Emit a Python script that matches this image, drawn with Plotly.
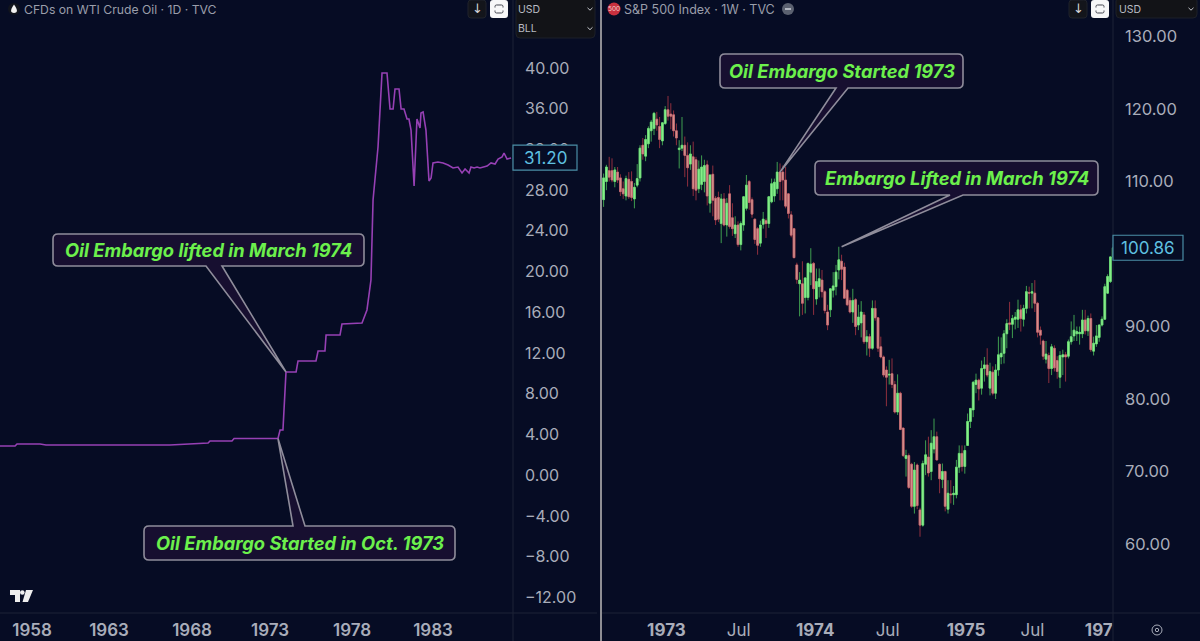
import plotly.graph_objects as go
import pandas as pd

W, H = 1200, 641
BG = "#060c24"

# ---------- left pane: WTI monthly line ----------
oil_years = [1956.0,1956.94,1957.06,1958.5,1958.87,1964.11,1966.6,1968.98,1969.1,1970.47,1970.6,1973.34,1973.47,1973.65,
             1973.84,1974.47,1974.59,1975.71,1975.84,1976.27,1976.34,1977.21,1977.33,1978.58,1978.89,1979.14,1979.27,1979.58,
             1979.83,1980.14,1980.33,1980.52,1980.64,1980.89,1981.02,1981.2,1981.39,1981.51,1981.64,1981.83,1981.95,1982.01,
             1982.2,1982.26,1982.39,1982.57,1982.76,1982.89,1983.01,1983.32,1983.64,1983.95,1984.26,1984.57,1984.82,1985.01,
             1985.26,1985.38,1985.57,1985.76,1985.94,1986.38,1986.63,1986.88,1987.07,1987.32,1987.44,1987.63,1987.88]
oil_prices = [2.87,2.87,3.06,3.06,2.97,2.97,2.97,3.16,3.36,3.36,3.60,3.60,4.44,4.44,
              10.14,10.14,11.22,11.22,12.20,12.20,13.77,13.77,14.85,14.95,16.23,19.17,27.03,32.24,
              39.51,39.51,35.97,35.97,37.94,37.94,35.97,35.97,34.99,34.99,33.91,28.41,33.22,34.99,
              34.11,35.58,35.68,33.91,28.90,29.19,30.67,30.77,30.67,30.47,30.18,30.27,29.69,30.08,
              29.69,30.27,30.18,30.27,30.18,30.37,30.67,30.57,31.06,31.26,31.65,31.06,31.16]
oil_tick_pos = [1958.0,1962.8,1967.98,1972.84,1977.96,1983.01]
oil_tick_txt = ["1958","1963","1968","1973","1978","1983"]
oil_y_ticks = [40,36,32,28,24,20,16,12,8,4,0,-4,-8,-12]
oil_y_text = ["40.00","36.00","32.00","28.00","24.00","20.00","16.00","12.00","8.00","4.00","0.00","\u22124.00","\u22128.00","\u221212.00"]
oil_last = 31.20

# ---------- right pane: S&P 500 weekly candles ----------
spx_first_week = "1972-07-28"
spx_open = [107.5,110.0,111.5,111.5,110.0,111.3,110.5,109.0,108.0,110.3,
 110.0,107.6,109.5,110.5,115.0,113.5,115.2,117.0,117.3,118.6,
 117.6,115.6,118.0,119.9,119.3,119.2,117.0,114.4,114.6,115.0,
 113.6,112.4,113.4,113.0,109.0,109.6,110.0,112.3,107.0,111.0,
 107.7,107.8,104.2,107.6,104.0,108.3,105.0,102.8,104.0,101.3,
 104.0,106.3,110.0,107.5,104.8,103.5,101.5,104.1,104.6,104.2,
 107.2,108.0,109.0,111.3,111.3,110.2,108.3,105.4,103.5,98.5,
 95.9,95.9,94.0,94.0,97.5,98.7,93.8,95.5,96.4,94.8,
 92.0,92.3,95.0,95.5,97.8,99.0,98.2,95.0,93.6,92.0,
 93.7,90.2,90.5,91.6,87.9,88.6,87.0,92.5,91.2,87.2,
 85.8,84.0,83.3,83.5,82.0,78.2,80.8,76.0,71.8,72.2,
 71.0,65.2,70.9,64.7,62.6,71.0,72.0,70.0,73.1,74.8,
 71.0,68.9,70.0,64.8,66.9,66.8,66.8,70.6,72.5,70.7,
 73.6,76.9,78.5,82.0,82.6,81.5,84.2,84.7,81.5,83.7,
 80.8,84.0,85.8,86.3,89.0,90.5,90.3,91.0,91.0,92.3,
 91.0,92.5,94.7,94.6,94.6,93.2,89.5,88.0,85.5,86.0,
 84.2,87.0,85.3,83.0,85.8,86.1,85.9,87.9,88.7,89.0,
 89.0,89.0,90.9,89.4,91.1,86.6,87.6,88.5,90.2,91.0,
 94.6,96.2,99.6]
spx_high = [111.1,112.3,113.4,113.2,112.0,112.0,111.0,110.0,110.8,111.3,
 111.4,109.8,112.4,115.0,116.0,116.4,117.6,118.5,119.6,119.6,
 118.9,118.2,120.4,121.8,120.8,119.8,118.0,115.7,118.9,116.2,
 115.4,115.0,115.5,113.4,112.9,113.6,113.0,112.9,111.0,112.2,
 108.0,108.6,108.3,108.4,107.7,109.5,107.0,105.2,104.5,104.5,
 108.0,110.9,110.2,107.8,104.9,103.7,104.6,105.8,104.9,108.0,
 110.4,110.4,112.7,112.5,112.2,112.0,108.4,105.9,103.6,98.8,
 97.5,99.0,96.8,98.8,100.8,98.9,98.0,98.0,97.8,95.0,
 93.0,95.3,97.5,98.5,101.0,99.9,98.8,95.2,94.0,95.2,
 93.9,93.0,93.5,92.0,89.5,89.0,93.6,93.6,91.3,88.6,
 86.0,84.5,85.4,85.6,82.5,83.4,81.0,76.0,73.0,72.5,
 71.2,71.3,71.1,65.0,71.5,74.3,74.8,75.7,77.3,75.5,
 71.1,71.1,70.1,68.8,68.8,68.0,71.6,73.6,73.6,73.6,
 78.0,78.7,82.5,83.5,82.8,85.3,85.8,87.0,85.0,84.5,
 84.8,88.6,88.5,89.5,91.0,93.4,91.6,92.0,93.7,93.0,
 93.0,95.6,95.5,96.0,96.4,93.4,90.0,88.2,88.0,86.4,
 87.6,87.4,85.9,86.6,86.8,86.5,88.2,90.7,91.6,90.0,
 90.0,92.3,92.3,91.5,91.8,88.6,90.2,90.3,91.4,95.9,
 97.2,99.7,101.4]
spx_low = [106.5,108.8,110.0,109.9,109.2,109.8,108.0,107.6,107.4,107.6,
 107.3,106.3,109.2,110.0,113.0,112.8,114.6,115.5,116.4,117.0,
 114.6,115.0,117.8,118.4,117.2,116.2,115.0,111.8,114.2,110.6,
 109.3,111.6,108.0,107.4,108.4,108.8,108.5,106.7,105.7,105.2,
 104.0,104.4,101.5,103.8,102.4,103.5,102.5,102.2,101.0,100.5,
 103.2,106.0,106.1,105.0,101.4,99.9,101.0,103.5,102.2,103.6,
 107.0,107.2,108.3,107.4,107.4,106.3,104.9,102.3,99.4,95.9,
 91.4,91.6,91.8,93.6,95.7,91.6,93.0,94.0,94.0,91.8,
 89.5,91.3,94.0,94.3,96.5,96.4,93.9,92.8,91.8,90.5,
 88.8,89.5,88.5,87.6,86.0,85.8,86.8,90.8,86.5,85.6,
 83.0,79.0,82.0,81.5,78.0,77.8,75.7,72.0,69.3,67.6,
 65.0,64.2,64.8,61.0,62.4,69.5,69.3,68.8,72.5,71.5,
 67.0,67.7,64.5,64.2,65.6,65.4,66.3,69.8,70.0,69.7,
 73.6,76.0,77.5,80.8,79.8,80.6,82.4,83.0,80.5,80.5,
 80.0,83.2,84.8,84.9,87.0,89.5,88.4,89.6,89.8,89.3,
 90.0,91.8,92.5,92.5,92.0,88.5,87.5,85.4,84.9,82.2,
 83.3,83.8,82.8,81.5,83.3,82.4,85.6,87.5,88.0,88.0,
 87.5,88.4,88.9,88.7,86.5,86.0,87.2,87.9,90.0,90.9,
 94.5,96.0,99.4]
spx_close = [110.5,112.0,110.6,110.2,111.6,110.2,108.6,108.3,110.4,107.9,
 107.8,109.2,110.4,114.6,113.8,115.8,117.3,118.2,119.4,117.8,
 115.8,118.1,119.9,119.0,119.0,117.0,116.0,114.6,115.0,113.6,
 111.9,113.8,109.0,108.8,111.7,112.0,112.2,108.0,110.9,107.4,
 104.7,104.8,107.6,104.0,107.0,103.8,103.5,104.0,101.3,104.2,
 107.9,109.5,107.1,105.5,102.0,101.2,104.0,104.8,104.2,107.9,
 109.7,109.9,111.3,110.0,110.2,106.6,105.6,102.6,99.5,96.5,
 96.4,93.2,96.7,98.7,98.6,95.2,96.2,96.6,94.8,92.2,
 90.2,95.2,95.6,97.5,99.2,97.9,93.9,93.0,92.0,93.6,
 90.0,91.3,92.0,87.9,88.6,87.0,92.5,91.2,87.0,85.8,
 83.3,83.0,83.4,82.0,78.2,80.8,75.8,72.2,72.2,67.8,
 65.2,70.2,65.3,62.6,71.1,72.3,69.8,73.9,74.8,71.6,
 69.0,70.0,65.2,67.0,66.8,67.0,70.6,72.5,70.7,72.9,
 76.9,78.7,82.3,82.6,81.4,84.2,84.7,83.3,83.8,80.8,
 84.0,86.1,86.3,89.0,90.4,90.3,91.1,91.3,92.3,91.1,
 92.5,94.8,94.6,94.8,93.2,89.2,88.8,85.9,86.2,84.2,
 87.2,84.3,83.8,86.0,86.1,85.8,87.9,88.6,89.5,89.3,
 89.2,90.9,89.4,91.1,86.8,87.7,88.7,90.2,91.0,95.5,
 96.9,99.6,100.86]
spx_tick_dates = ["1973-01-01","1973-07-01","1974-01-08","1974-07-08","1975-01-20","1975-07-05","1975-12-18"]
spx_tick_txt = ["<b>1973</b>","Jul","<b>1974</b>","Jul","<b>1975</b>","Jul","<b>197</b>"]
spx_y_ticks = [130,120,110,90,80,70,60]
spx_y_text = ["130.00","120.00","110.00","90.00","80.00","70.00","60.00"]
spx_last = 100.86

# ---------- pane geometry ----------
L_R, R_L, R_R, BOT = 513, 602, 1113, 613
OIL_X0, OIL_X1 = 1956.0, 1988.0
OIL_Y1 = 40 + 68 / 10.18
OIL_Y0 = 40 - (BOT - 68) / 10.18
SPX_Y1 = 130 + 36.5 / 7.25
SPX_Y0 = 130 - (BOT - 36.5) / 7.25
SPX_X0 = pd.Timestamp("1973-01-05") + pd.Timedelta(days=(R_L - 668) / 0.4)
SPX_X1 = pd.Timestamp("1973-01-05") + pd.Timedelta(days=(R_R - 668) / 0.4)

def px(x): return x / W
def py(y): return 1 - y / H
def oil_px(yr, val):
    return (yr - OIL_X0) / (OIL_X1 - OIL_X0) * L_R, (OIL_Y1 - val) / (OIL_Y1 - OIL_Y0) * BOT
def spx_px(date, val):
    d = (pd.Timestamp(date) - SPX_X0) / (SPX_X1 - SPX_X0)
    return R_L + d * (R_R - R_L), (SPX_Y1 - val) / (SPX_Y1 - SPX_Y0) * BOT

spx_dates = pd.date_range(spx_first_week, periods=len(spx_close), freq="7D")
body_top = [max(o, c) for o, c in zip(spx_open, spx_close)]
body_bot = [min(o, c) for o, c in zip(spx_open, spx_close)]

fig = go.Figure()
fig.add_trace(go.Scatter(x=oil_years, y=oil_prices, mode="lines", xaxis="x", yaxis="y",
                         line=dict(color="#9640b4", width=1.6), showlegend=False, hoverinfo="skip"))
# wicks (dim) then bodies (bright) of the same candles
fig.add_trace(go.Candlestick(x=spx_dates, open=spx_open, high=spx_high, low=spx_low, close=spx_close,
                             xaxis="x2", yaxis="y2", showlegend=False, whiskerwidth=0,
                             increasing=dict(line=dict(color="#3f9e50", width=1), fillcolor="#3f9e50"),
                             decreasing=dict(line=dict(color="#8f2f3e", width=1), fillcolor="#8f2f3e")))
fig.add_trace(go.Candlestick(x=spx_dates, open=spx_open, high=body_top, low=body_bot, close=spx_close,
                             xaxis="x2", yaxis="y2", showlegend=False, whiskerwidth=0,
                             increasing=dict(line=dict(color="#72e07c", width=0.6), fillcolor="#8af08c"),
                             decreasing=dict(line=dict(color="#c4727a", width=0.6), fillcolor="#d8938c")))

AX = "#a9adba"
shapes, annos = [], []

def path(points, close=True):
    s = "M" + " L".join(f"{px(x):.5f},{py(y):.5f}" for x, y in points)
    return s + (" Z" if close else "")

def rect(x0, y0, x1, y1, fill, line="rgba(0,0,0,0)", r=3, lw=1):
    d = (f"M{px(x0+r):.5f},{py(y0):.5f} L{px(x1-r):.5f},{py(y0):.5f} Q{px(x1):.5f},{py(y0):.5f} {px(x1):.5f},{py(y0+r):.5f} "
         f"L{px(x1):.5f},{py(y1-r):.5f} Q{px(x1):.5f},{py(y1):.5f} {px(x1-r):.5f},{py(y1):.5f} "
         f"L{px(x0+r):.5f},{py(y1):.5f} Q{px(x0):.5f},{py(y1):.5f} {px(x0):.5f},{py(y1-r):.5f} "
         f"L{px(x0):.5f},{py(y0+r):.5f} Q{px(x0):.5f},{py(y0):.5f} {px(x0+r):.5f},{py(y0):.5f} Z")
    shapes.append(dict(type="path", xref="paper", yref="paper", path=d, fillcolor=fill, line=dict(color=line, width=lw), layer="above"))

def vline(x, y0, y1, color, w):
    shapes.append(dict(type="line", xref="paper", yref="paper", x0=px(x), x1=px(x), y0=py(y0), y1=py(y1), line=dict(color=color, width=w), layer="above"))
def hline(x0, x1, y, color, w=1):
    shapes.append(dict(type="line", xref="paper", yref="paper", x0=px(x0), x1=px(x1), y0=py(y), y1=py(y), line=dict(color=color, width=w), layer="above"))

def text(x, y, s, size=12, color=AX, anchor="left", family="Inter"):
    annos.append(dict(xref="paper", yref="paper", x=px(x), y=py(y), text=s, showarrow=False, xanchor=anchor, yanchor="middle",
                      font=dict(family=family, size=size, color=color), borderpad=0, borderwidth=0))

def circle(cx, cy, r, fill, line="rgba(0,0,0,0)", lw=1):
    shapes.append(dict(type="circle", xref="paper", yref="paper", x0=px(cx-r), x1=px(cx+r), y0=py(cy-r), y1=py(cy+r),
                       fillcolor=fill, line=dict(color=line, width=lw), layer="above"))

def chevron(cx, cy):
    shapes.append(dict(type="path", xref="paper", yref="paper", layer="above", line=dict(color="#c4c6cc", width=1),
                       path=path([(cx - 2.5, cy - 1.2), (cx, cy + 1.2), (cx + 2.5, cy - 1.2)], close=False)))

# pane rules
vline(L_R, 0, 641, "#1c2236", 1)
vline(R_R, 0, 641, "#1c2236", 1)
hline(0, 597, BOT, "#1c2236")
hline(R_L, 1200, BOT, "#1c2236")
shapes.append(dict(type="rect", xref="paper", yref="paper", x0=px(597), x1=px(602), y0=py(0), y1=py(641),
                   fillcolor=BG, line=dict(width=0), layer="above"))
vline(601, 0, 641, "#8e8e94", 2)

# price tags
def tag(x0, x1, val_y, s):
    rect(x0, val_y - 12.5, x1, val_y + 12.5, BG, "#4b8ea6", r=0, lw=1.2)
    text((x0 + x1) / 2, val_y + 0.5, s, size=17, color="#5fc0e0", anchor="center")
tag(513, 577, oil_px(1988, oil_last)[1], f"{oil_last:.2f}")
tag(1113, 1183, spx_px("1976-01-01", spx_last)[1], f"{spx_last:.2f}")

# callouts
def callout(box, tail_a, tail_b, tip, s, size=18.3):
    x0, y0, x1, y1 = box
    r = 5
    top = tip[1] < y0
    pts = f"M{px(x0+r):.5f},{py(y0):.5f} "
    if top:
        pts += f"L{px(tail_a):.5f},{py(y0):.5f} L{px(tip[0]):.5f},{py(tip[1]):.5f} L{px(tail_b):.5f},{py(y0):.5f} "
    pts += (f"L{px(x1-r):.5f},{py(y0):.5f} Q{px(x1):.5f},{py(y0):.5f} {px(x1):.5f},{py(y0+r):.5f} "
            f"L{px(x1):.5f},{py(y1-r):.5f} Q{px(x1):.5f},{py(y1):.5f} {px(x1-r):.5f},{py(y1):.5f} ")
    if not top:
        pts += f"L{px(tail_b):.5f},{py(y1):.5f} L{px(tip[0]):.5f},{py(tip[1]):.5f} L{px(tail_a):.5f},{py(y1):.5f} "
    pts += (f"L{px(x0+r):.5f},{py(y1):.5f} Q{px(x0):.5f},{py(y1):.5f} {px(x0):.5f},{py(y1-r):.5f} "
            f"L{px(x0):.5f},{py(y0+r):.5f} Q{px(x0):.5f},{py(y0):.5f} {px(x0+r):.5f},{py(y0):.5f} Z")
    shapes.append(dict(type="path", xref="paper", yref="paper", path=pts, fillcolor="rgba(24,16,50,0.95)",
                       line=dict(color="#8f8d9b", width=1.6), layer="above"))
    text((x0 + x1) / 2, (y0 + y1) / 2 - 0.5, f"<b><i>{s}</i></b>", size=size, color="#6cf04c", anchor="center", family="Inter")

callout((53, 234, 364, 266), 206, 222, oil_px(1973.84, 10.14), "Oil Embargo lifted in March 1974")
callout((144, 526, 455, 560), 293, 305, oil_px(1973.34, 3.60), "Oil Embargo Started in Oct. 1973")
callout((720, 54, 963, 88), 836, 848, spx_px("1973-10-12", 111.3), "Oil Embargo Started 1973")
callout((815, 161, 1098, 195), 950, 963, spx_px("1974-03-15", 101.0), "Embargo Lifted in March 1974")

# headers
circle(14, 9, 6, "#11141d")
shapes.append(dict(type="path", xref="paper", yref="paper", layer="above", fillcolor="#f2f2f2", line=dict(width=0),
                   path=f"M{px(14):.5f},{py(4.5):.5f} Q{px(18):.5f},{py(10):.5f} {px(16.6):.5f},{py(12):.5f} Q{px(14):.5f},{py(14):.5f} {px(11.4):.5f},{py(12):.5f} Q{px(10):.5f},{py(10):.5f} {px(14):.5f},{py(4.5):.5f} Z"))
text(24, 9, "CFDs on WTI Crude Oil \u00b7 1D \u00b7 TVC", size=12.2, color="#9a9eaa")
circle(614, 9, 6.5, "#c8303e")
text(614, 9, "500", size=6.5, color="#f2d0d0", anchor="center")
text(624, 9, "S&amp;P 500 Index \u00b7 1W \u00b7 TVC", size=12.5, color="#9a9eaa")
circle(788, 9, 6, "#5b6170")
hline(785, 791, 9, "#d8dbe2", 1.4)

def buttons(xa, xb):
    rect(xa, 0, xa + 18, 18, "#13151b", "#20232c", r=3)
    text(xa + 9, 8.5, "\u2193", size=13, color="#d4d4d8", anchor="center", family="DejaVu Sans")
    rect(xb, 0, xb + 18, 18, "#f7f7f8", r=3)
    rect(xb + 5, 5, xb + 13, 13, "#f7f7f8", "#444650", r=1.5, lw=1)
    hline(xb + 3.5, xb + 14.5, 9, "#f7f7f8", 3)
buttons(468, 490)
buttons(1069, 1091)

rect(516, -3, 595, 38, "#121317", "#1d2029", r=4)
text(518, 9, "USD", size=10.5, color="#b9bbc2")
text(518, 28.5, "BLL", size=10.5, color="#b9bbc2")
chevron(590, 9)
chevron(590, 28.5)
rect(1116, -3, 1197, 18, "#121317", "#1d2029", r=4)
text(1119, 9, "USD", size=10.5, color="#b9bbc2")
chevron(1191, 9)

# settings glyph
circle(1157, 630, 5, BG, "#a9adba", 1)
circle(1157, 630, 1.7, BG, "#a9adba", 1)

# TV logo
for pts in ([(10, 590), (20, 590), (20, 602), (15, 602), (15, 595), (10, 595)],
            [(26, 590), (33, 590), (28, 602), (22.5, 602)]):
    shapes.append(dict(type="path", xref="paper", yref="paper", path=path(pts), fillcolor="#eeeeee", line=dict(width=0), layer="above"))
circle(22.3, 592.5, 2.3, "#eeeeee")

fig.update_layout(
    width=W, height=H, margin=dict(l=0, r=0, t=0, b=0), autosize=False,
    paper_bgcolor=BG, plot_bgcolor=BG, showlegend=False, hovermode=False, boxgap=0.1, boxmode="overlay",
    xaxis=dict(domain=[0, px(L_R)], range=[OIL_X0, OIL_X1], anchor="y", showgrid=False, zeroline=False, showline=False,
               tickmode="array", tickvals=oil_tick_pos, ticktext=oil_tick_txt, ticks="",
               ticklabelstandoff=5, tickfont=dict(family="Inter", size=17, weight=600, color=AX)),
    yaxis=dict(domain=[py(BOT), 1], range=[OIL_Y0, OIL_Y1], anchor="x", side="right", showgrid=False, zeroline=False, showline=False,
               tickmode="array", tickvals=oil_y_ticks, ticktext=oil_y_text, ticks="", ticklabelstandoff=11,
               tickfont=dict(family="Inter", size=16, color=AX)),
    xaxis2=dict(domain=[px(R_L), px(R_R)], range=[SPX_X0, SPX_X1], anchor="y2", type="date", showgrid=False, zeroline=False, showline=False,
                rangeslider=dict(visible=False), tickmode="array", tickvals=spx_tick_dates, ticktext=spx_tick_txt, ticks="",
                ticklabelstandoff=5, tickfont=dict(family="Inter", size=17, color=AX)),
    yaxis2=dict(domain=[py(BOT), 1], range=[SPX_Y0, SPX_Y1], anchor="x2", side="right", showgrid=False, zeroline=False, showline=False,
                tickmode="array", tickvals=spx_y_ticks, ticktext=spx_y_text, ticks="", ticklabelstandoff=11,
                tickfont=dict(family="Inter", size=16.5, color=AX)),
    shapes=shapes, annotations=annos,
)
fig.write_html("out.html", config=dict(displayModeBar=False), post_script="document.body.style.margin='0';")
